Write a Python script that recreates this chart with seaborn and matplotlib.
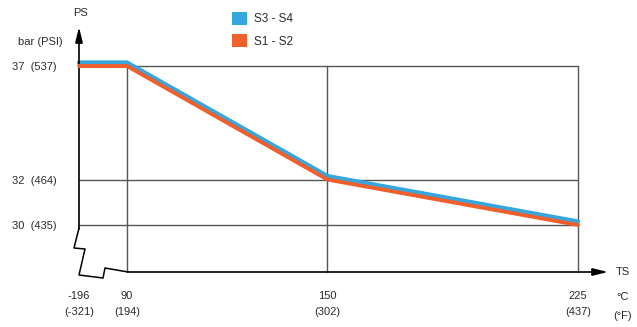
import numpy as np
import matplotlib
matplotlib.use("Agg")
import matplotlib.pyplot as plt
import seaborn as sns
from matplotlib.lines import Line2D
from matplotlib.patches import Patch
from matplotlib.scale import FuncScale

# data: max allowable pressure vs temperature
temp_c = [-196, 90, 150, 225]
temp_f = [-321, 194, 302, 437]
ps_s3s4 = [37.15, 37.15, 32.15, 30.15]
ps_s1s2 = [37.0, 37.0, 32.0, 30.0]
ps_ticks = [30, 32, 37]
ps_psi = [435, 464, 537]
series_names = ["S3 - S4", "S1 - S2"]
colors = ["#36a6df", "#f15f2c"]

W, H = 637, 327
sns.set_style("white")
plt.rcParams["font.family"] = ["Liberation Sans", "DejaVu Sans"]
txt = "#2b2b2b"
grid = "#555555"

fig = plt.figure(figsize=(W / 100, H / 100), dpi=100)
ax = fig.add_axes([79 / W, (H - 272) / H, 499 / W, 206 / H])


def fwd(x):
    # broken temperature axis: cryogenic part squeezed on the left
    x = np.asarray(x, float)
    return np.where(x < 90, 48 * (x + 196) / 286, 48 + (x - 90) * 451 / 135)


def inv(p):
    p = np.asarray(p, float)
    return np.where(p < 48, -196 + p * 286 / 48, 90 + (p - 48) * 135 / 451)


ax.set_xscale(FuncScale(ax, (fwd, inv)))
ax.set_xlim(-196, 225)
ax.set_ylim(27.93, 37)

for y in ps_ticks:
    ax.axhline(y, color=grid, lw=1.0, zorder=1, clip_on=False)
for x in temp_c[1:]:
    ax.axvline(x, color=grid, lw=1.0, zorder=1, clip_on=False)

sns.lineplot(x=temp_c, y=ps_s3s4, ax=ax, color=colors[0], lw=3.2, zorder=3,
             clip_on=False, solid_joinstyle="miter")
sns.lineplot(x=temp_c, y=ps_s1s2, ax=ax, color=colors[1], lw=2.8, zorder=4,
             clip_on=False, solid_joinstyle="miter")

ax.set_yticks(ps_ticks)
ax.set_yticklabels([f"{b}  ({p})" for b, p in zip(ps_ticks, ps_psi)])
ax.set_xticks(temp_c)
ax.set_xticklabels([f"{c}\n({f})" for c, f in zip(temp_c, temp_f)])
ax.tick_params(axis="y", length=0, pad=16, labelsize=8, labelcolor=txt)
ax.tick_params(axis="x", length=0, pad=14, labelsize=8, labelcolor=txt)
for lbl in ax.get_xticklabels():
    lbl.set_linespacing(1.75)
for s in ax.spines.values():
    s.set_visible(False)
ax.grid(False)


def px(x, y):
    return (x / W, 1 - y / H)


# y axis with break and arrow
ax.annotate("", xy=px(79, 27), xytext=px(79, 229), xycoords="figure fraction",
            arrowprops=dict(arrowstyle="-|>,head_length=0.9,head_width=0.22",
                            color="black", lw=1.2, shrinkA=0, shrinkB=0))
ax.annotate("", xy=px(608, 272), xytext=px(128, 272), xycoords="figure fraction",
            arrowprops=dict(arrowstyle="-|>,head_length=0.9,head_width=0.22",
                            color="black", lw=1.2, shrinkA=0, shrinkB=0))
brk = [(79, 228), (74, 248), (85, 249), (79, 275), (103, 278), (105, 268), (128, 272)]
bx, by = zip(*[px(a, b) for a, b in brk])
fig.add_artist(Line2D(bx, by, color="black", lw=1.1, transform=fig.transFigure))

fig.text(*px(80, 13), "PS", ha="center", va="center", fontsize=8, color=txt)
fig.text(*px(40, 42), "bar (PSI)", ha="center", va="center", fontsize=8, color=txt)
fig.text(*px(623, 272), "TS", ha="center", va="center", fontsize=8, color=txt)
fig.text(*px(623, 297), "°C", ha="center", va="center", fontsize=8, color=txt)
fig.text(*px(623, 316), "(°F)", ha="center", va="center", fontsize=8, color=txt)

handles = [Patch(facecolor=c, edgecolor="none") for c in colors]
fig.legend(handles, series_names, loc="upper left", bbox_to_anchor=px(232, 12),
           frameon=False, fontsize=8.5, handlelength=1.3, handleheight=1.3,
           handletextpad=0.6, labelspacing=0.75, borderpad=0, borderaxespad=0,
           labelcolor=txt)

fig.savefig("out.png", dpi=100, facecolor="white")
